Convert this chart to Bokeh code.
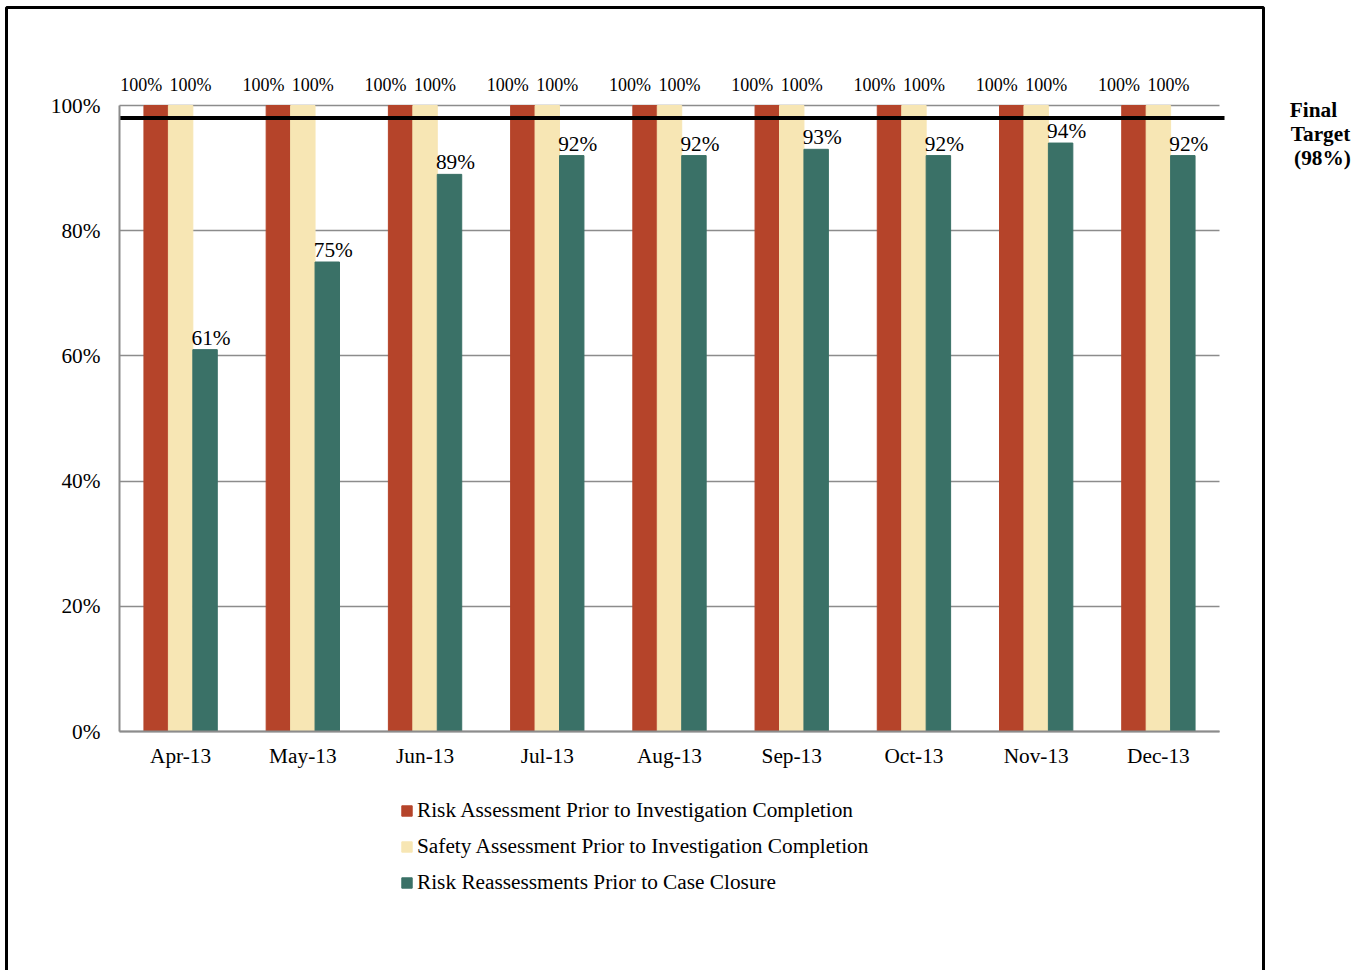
from bokeh.plotting import figure
from bokeh.models import (ColumnDataSource, LabelSet, Label, Legend, LegendItem, Grid,
                          BoxAnnotation, FixedTicker, PrintfTickFormatter, LinearAxis, Range1d)
from bokeh.embed import file_html
from bokeh.resources import INLINE

months = ["Apr-13", "May-13", "Jun-13", "Jul-13", "Aug-13", "Sep-13", "Oct-13", "Nov-13", "Dec-13"]
risk_assessment = [100, 100, 100, 100, 100, 100, 100, 100, 100]
safety_assessment = [100, 100, 100, 100, 100, 100, 100, 100, 100]
risk_reassessment = [61, 75, 89, 92, 92, 93, 92, 94, 92]
series_names = ["Risk Assessment Prior to Investigation Completion",
                "Safety Assessment Prior to Investigation Completion",
                "Risk Reassessments Prior to Case Closure"]
y_ticks = [0, 20, 40, 60, 80, 100]
target = 98

FONT = "Liberation Serif"
FS = "21.3px"
RED = "#B5442A"
CREAM = "#F7E6B4"
TEAL = "#3A7167"
GRID = "#8C8C8C"

W, H = 1367, 970
# frame covers the whole canvas; data origin placed at pixel (119, 731)
PX_X = 1100 / len(months)   # pixels per category
PX_Y = 626 / 100            # pixels per percent
X0, Y0 = 119, 731

n = len(months)
centers = [i + 0.5 for i in range(n)]

src = ColumnDataSource(dict(
    xr=[c - 0.2 for c in centers], xs=centers, xt=[c + 0.2 for c in centers],
    risk=risk_assessment, safety=safety_assessment, reass=risk_reassessment,
    risk_lbl=[f"{v}%" for v in risk_assessment],
    safety_lbl=[f"{v}%" for v in safety_assessment],
    reass_lbl=[f"{v}%" for v in risk_reassessment],
))

p = figure(width=W, height=H, output_backend="svg", toolbar_location=None,
           x_range=Range1d(-X0 / PX_X, (W - X0) / PX_X),
           y_range=Range1d(-(H - Y0) / PX_Y, Y0 / PX_Y),
           x_axis_location=None, y_axis_location=None,
           min_border=0, min_border_left=0, min_border_right=0,
           min_border_top=0, min_border_bottom=0)
p.outline_line_color = None
p.background_fill_color = "white"
p.border_fill_color = "white"
p.xgrid.visible = False
p.ygrid.visible = False

# axes fixed at the data origin
yaxis = LinearAxis(fixed_location=0, bounds=(0, 100), ticker=FixedTicker(ticks=y_ticks),
                   formatter=PrintfTickFormatter(format="%d%%"))
xaxis = LinearAxis(fixed_location=0, bounds=(0, n), ticker=FixedTicker(ticks=centers),
                   major_label_overrides={c: m for c, m in zip(centers, months)})
for ax in (xaxis, yaxis):
    ax.axis_line_color = GRID
    ax.axis_line_width = 2
    ax.major_tick_line_color = None
    ax.minor_tick_line_color = None
    ax.major_tick_out = 0
    ax.major_tick_in = 0
    ax.major_label_text_font = FONT
    ax.major_label_text_font_size = FS
    ax.major_label_text_color = "black"
yaxis.major_label_standoff = 19
xaxis.major_label_standoff = 12
p.add_layout(yaxis, "left")
p.add_layout(xaxis, "below")

# horizontal gridlines
if "cross_bounds" in Grid.properties():
    g = Grid(dimension=1, ticker=yaxis.ticker, grid_line_color=GRID, grid_line_width=1.5,
             cross_bounds=(0, n))
    p.add_layout(g)
else:
    p.segment(x0=[0] * len(y_ticks), x1=[n] * len(y_ticks), y0=y_ticks, y1=y_ticks,
              line_color=GRID, line_width=1.5)

r1 = p.vbar(x="xr", top="risk", width=0.2, source=src, fill_color=RED, line_color=RED)
r2 = p.vbar(x="xs", top="safety", width=0.2, source=src, fill_color=CREAM, line_color=CREAM)
r3 = p.vbar(x="xt", top="reass", width=0.2, source=src, fill_color=TEAL, line_color=TEAL)

# target line
p.segment(x0=[0], x1=[n + 5 / PX_X], y0=[target], y1=[target], line_color="black", line_width=4)

# data labels
common = dict(source=src, text_font=FONT, text_color="black",
              text_align="center", text_baseline="alphabetic")
p.add_layout(LabelSet(x="xr", y="risk", text="risk_lbl", x_offset=-15, y_offset=15,
                      text_font_size="18px", **common))
p.add_layout(LabelSet(x="xs", y="safety", text="safety_lbl", x_offset=10, y_offset=15,
                      text_font_size="18px", **common))
p.add_layout(LabelSet(x="xt", y="reass", text="reass_lbl", x_offset=6, y_offset=5,
                      text_font_size=FS, **common))

# Final target text (right of the bordered area)
for txt, xpx, ypx in [("Final", 1313, 109), ("Target", 1320, 133), ("(98%)", 1322, 157)]:
    p.add_layout(Label(x=(xpx - X0) / PX_X, y=(Y0 - ypx) / PX_Y, text=txt, text_font=FONT,
                       text_font_size=FS, text_font_style="bold", text_align="center",
                       text_baseline="middle", text_color="black"))

# outer frame
p.add_layout(BoxAnnotation(left=(6 - X0) / PX_X, right=(1263 - X0) / PX_X,
                           top=(Y0 - 7) / PX_Y, bottom=(Y0 - 990) / PX_Y,
                           fill_alpha=0, fill_color=None, line_color="black", line_width=3,
                           line_alpha=1))

legend = Legend(items=[LegendItem(label=series_names[0], renderers=[r1]),
                       LegendItem(label=series_names[1], renderers=[r2]),
                       LegendItem(label=series_names[2], renderers=[r3])],
                location=(400, 75), orientation="vertical",
                label_text_font=FONT, label_text_font_size=FS, label_text_color="black",
                glyph_width=13, glyph_height=13, label_height=24, label_standoff=4,
                spacing=11, padding=0, margin=0, border_line_color=None,
                background_fill_alpha=0)
p.add_layout(legend, "center")

open("out.html", "w").write(file_html(p, INLINE))
